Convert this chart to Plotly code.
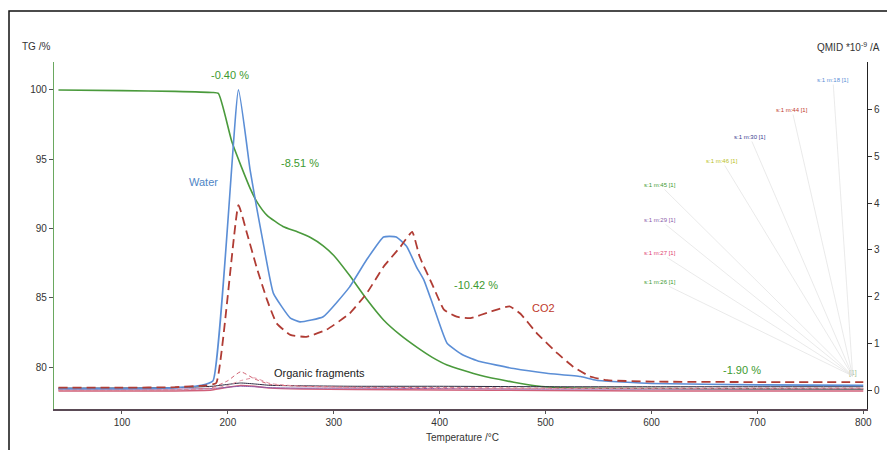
import plotly.graph_objects as go

# ---------------- data ----------------
tg_T = [40, 100, 150, 185, 191, 204, 221, 228, 237, 252, 266, 278, 290, 300, 315, 330, 347, 363, 379, 393, 407, 438, 470, 490, 520, 600, 700, 800]
tg_pct = [100.0, 99.95, 99.9, 99.82, 99.75, 96.2, 92.9, 91.85, 90.95, 90.15, 89.75, 89.35, 88.75, 88.05, 86.6, 85.0, 83.4, 82.3, 81.4, 80.7, 80.15, 79.4, 78.9, 78.65, 78.5, 78.45, 78.42, 78.4]

water_T = [40, 100, 150, 175, 186, 210, 221, 227, 234, 243, 259, 268, 290, 315, 331, 347, 359, 369, 378, 385, 394, 407, 422, 438, 470, 501, 533, 548, 600, 700, 800]
water_v = [0.03, 0.03, 0.05, 0.1, 0.2, 6.43, 4.71, 3.93, 3.07, 2.07, 1.54, 1.46, 1.57, 2.21, 2.79, 3.28, 3.28, 3.07, 2.64, 2.36, 1.8, 1.0, 0.75, 0.61, 0.46, 0.36, 0.29, 0.21, 0.14, 0.11, 0.1]

co2_T = [40, 100, 150, 180, 189, 210, 218, 227, 237, 246, 259, 274, 293, 315, 331, 347, 363, 374, 381, 394, 404, 416, 429, 448, 466, 476, 492, 511, 526, 542, 558, 600, 700, 800]
co2_v = [0.05, 0.05, 0.06, 0.1, 0.15, 3.96, 3.36, 2.64, 1.93, 1.43, 1.18, 1.14, 1.29, 1.64, 2.07, 2.64, 3.07, 3.39, 2.86, 2.21, 1.72, 1.57, 1.54, 1.68, 1.79, 1.64, 1.21, 0.79, 0.5, 0.29, 0.21, 0.18, 0.17, 0.17]

frag_T = [40, 150, 185, 200, 212, 225, 240, 270, 320, 400, 500, 600, 700, 800]
m27_v = [-0.02, -0.02, 0.0, 0.06, 0.1, 0.08, 0.04, 0.02, 0.01, 0.0, -0.01, -0.02, -0.02, -0.02]
m29_v = [0.02, 0.02, 0.03, 0.06, 0.08, 0.07, 0.05, 0.04, 0.04, 0.03, 0.02, 0.02, 0.02, 0.02]
m30_v = [0.04, 0.05, 0.08, 0.12, 0.15, 0.13, 0.1, 0.09, 0.08, 0.08, 0.07, 0.07, 0.07, 0.07]
m45_v = [0.0, 0.0, 0.05, 0.2, 0.39, 0.24, 0.12, 0.08, 0.06, 0.05, 0.04, 0.04, 0.04, 0.04]
m46_v = [0.0, 0.0, 0.03, 0.1, 0.2, 0.26, 0.14, 0.08, 0.05, 0.04, 0.03, 0.03, 0.03, 0.03]

x_ticks = [100, 200, 300, 400, 500, 600, 700, 800]
tg_ticks = [80, 85, 90, 95, 100]
ms_ticks = [0, 1, 2, 3, 4, 5, 6]

step_labels = ["-0.40 %", "-8.51 %", "-10.42 %", "-1.90 %"]
ms_labels = ["s:1 m:18 [1]", "s:1 m:44 [1]", "s:1 m:30 [1]", "s:1 m:46 [1]",
             "s:1 m:45 [1]", "s:1 m:29 [1]", "s:1 m:27 [1]", "s:1 m:26 [1]"]

# ---------------- layout helpers ----------------
OFF = 8                      # page body margin
W, H = 895 - OFF, 450 - OFF  # figure size
L, R, T, B = 54, 867, 62, 409  # plot area in page pixels


def px(x, y):
    return (x - L) / (R - L), (B - y) / (B - T)


GREEN = "#4a9a3c"
BLUE = "#5b8ed6"
RED = "#b03c34"
FONT = "Liberation Sans, Arial, sans-serif"

fig = go.Figure()

fig.add_trace(go.Scatter(x=tg_T, y=tg_pct, mode="lines", yaxis="y",
                         line=dict(color=GREEN, width=1.6, shape="spline", smoothing=0.5)))
# fragments
fig.add_trace(go.Scatter(x=frag_T, y=m27_v, mode="lines", yaxis="y2",
                         line=dict(color="#d0607a", width=1.4, shape="spline", smoothing=0.5)))
fig.add_trace(go.Scatter(x=frag_T, y=m29_v, mode="lines", yaxis="y2",
                         line=dict(color="#8a5aa8", width=1.0, shape="spline", smoothing=0.5)))
fig.add_trace(go.Scatter(x=frag_T, y=m30_v, mode="lines", yaxis="y2",
                         line=dict(color="#2a2a40", width=1.0, shape="spline", smoothing=0.5)))
fig.add_trace(go.Scatter(x=frag_T, y=m45_v, mode="lines", yaxis="y2",
                         line=dict(color="#d06070", width=1.0, dash="4px,3px", shape="spline", smoothing=0.5)))
fig.add_trace(go.Scatter(x=frag_T, y=m46_v, mode="lines", yaxis="y2",
                         line=dict(color="#e090a0", width=1.0, dash="4px,3px", shape="spline", smoothing=0.5)))
# main MS
fig.add_trace(go.Scatter(x=water_T, y=water_v, mode="lines", yaxis="y2",
                         line=dict(color=BLUE, width=1.6, shape="spline", smoothing=0.4)))
fig.add_trace(go.Scatter(x=co2_T, y=co2_v, mode="lines", yaxis="y2",
                         line=dict(color=RED, width=1.8, dash="9px,5px", shape="spline", smoothing=0.4)))

tick_font = dict(family=FONT, size=10, color="#333333")

fig.update_layout(
    width=W, height=H,
    margin=dict(l=L - OFF, r=W - (R - OFF), t=T - OFF, b=H - (B - OFF), pad=0),
    paper_bgcolor="white", plot_bgcolor="white",
    showlegend=False,
    font=dict(family=FONT),
    xaxis=dict(range=[35.8, 803.5], tickvals=x_ticks, ticks="outside", ticklen=3,
               tickcolor="#555", showline=True, linecolor="#5a4a55", linewidth=1.5,
               showgrid=False, zeroline=False, tickfont=tick_font),
    yaxis=dict(range=[76.97, 102.02], tickvals=tg_ticks, ticks="outside", ticklen=4,
               tickcolor="#555", showline=True, linecolor="#6aa860", linewidth=1.2,
               showgrid=False, zeroline=False, tickfont=tick_font),
    yaxis2=dict(range=[-0.407, 7.028], tickvals=ms_ticks, ticks="outside", ticklen=4,
                tickcolor="#333", showline=True, linecolor="#222", linewidth=1.2,
                overlaying="y", side="right", anchor="x",
                showgrid=False, zeroline=False, tickfont=tick_font),
)

ann = []


def add_text(text, x, y, color, size=11, xanchor="center"):
    xp, yp = px(x, y)
    ann.append(dict(text=text, x=xp, y=yp, xref="paper", yref="paper", showarrow=False,
                    xanchor=xanchor, yanchor="middle",
                    font=dict(family=FONT, size=size, color=color)))


add_text("TG /%", 36, 47, "#333333", 10)
add_text("QMID *10<sup>-9</sup> /A", 815, 47, "#333333", 10, xanchor="left")
add_text("Temperature /°C", 462, 437, "#333333", 10)

step_pos = [(230, 75), (300, 163), (476, 285), (742, 370)]
for lab, (x, y) in zip(step_labels, step_pos):
    add_text(lab, x, y, "#3d9a30", 11)

add_text("Water", 203, 182, "#4f86c6", 11)
add_text("CO2", 543, 308, "#c0392b", 11)
add_text("Organic fragments", 319, 373, "#222222", 11)
add_text("[1]", 853, 373, "#a8c090", 7)

# MS channel labels with leader lines
ms_colors = ["#5b8ed6", "#c0392b", "#3a3a90", "#b8c020", "#3d9a30", "#8a5aa8", "#e04070", "#3d9a30"]
ms_pos = [(833, 80), (792, 110), (750, 137), (722, 161), (660, 185), (660, 220), (660, 253), (660, 282)]
tip_T, tip_v = 790, 0.3
tip_x = L + (tip_T - 35.8) / (803.5 - 35.8) * (R - L)
tip_y = B - (tip_v + 0.407) / (7.028 + 0.407) * (B - T)
for lab, col, (x, y) in zip(ms_labels, ms_colors, ms_pos):
    ann.append(dict(text=lab, x=tip_T, y=tip_v, xref="x", yref="y2",
                    ax=x - tip_x, ay=y - tip_y, axref="pixel", ayref="pixel",
                    showarrow=True, arrowhead=0, arrowwidth=0.6, arrowcolor="#dcdcdc",
                    standoff=0, font=dict(family=FONT, size=6, color=col)))

fig.update_layout(annotations=ann)

# outer frame
x0, y1 = px(9, 11)
x1, y0 = px(905, 460)
fig.add_shape(type="rect", xref="paper", yref="paper", x0=x0, y0=y0, x1=x1, y1=y1,
              line=dict(color="#111", width=1.5), fillcolor="rgba(0,0,0,0)", layer="below")

fig.write_html("out.html")
